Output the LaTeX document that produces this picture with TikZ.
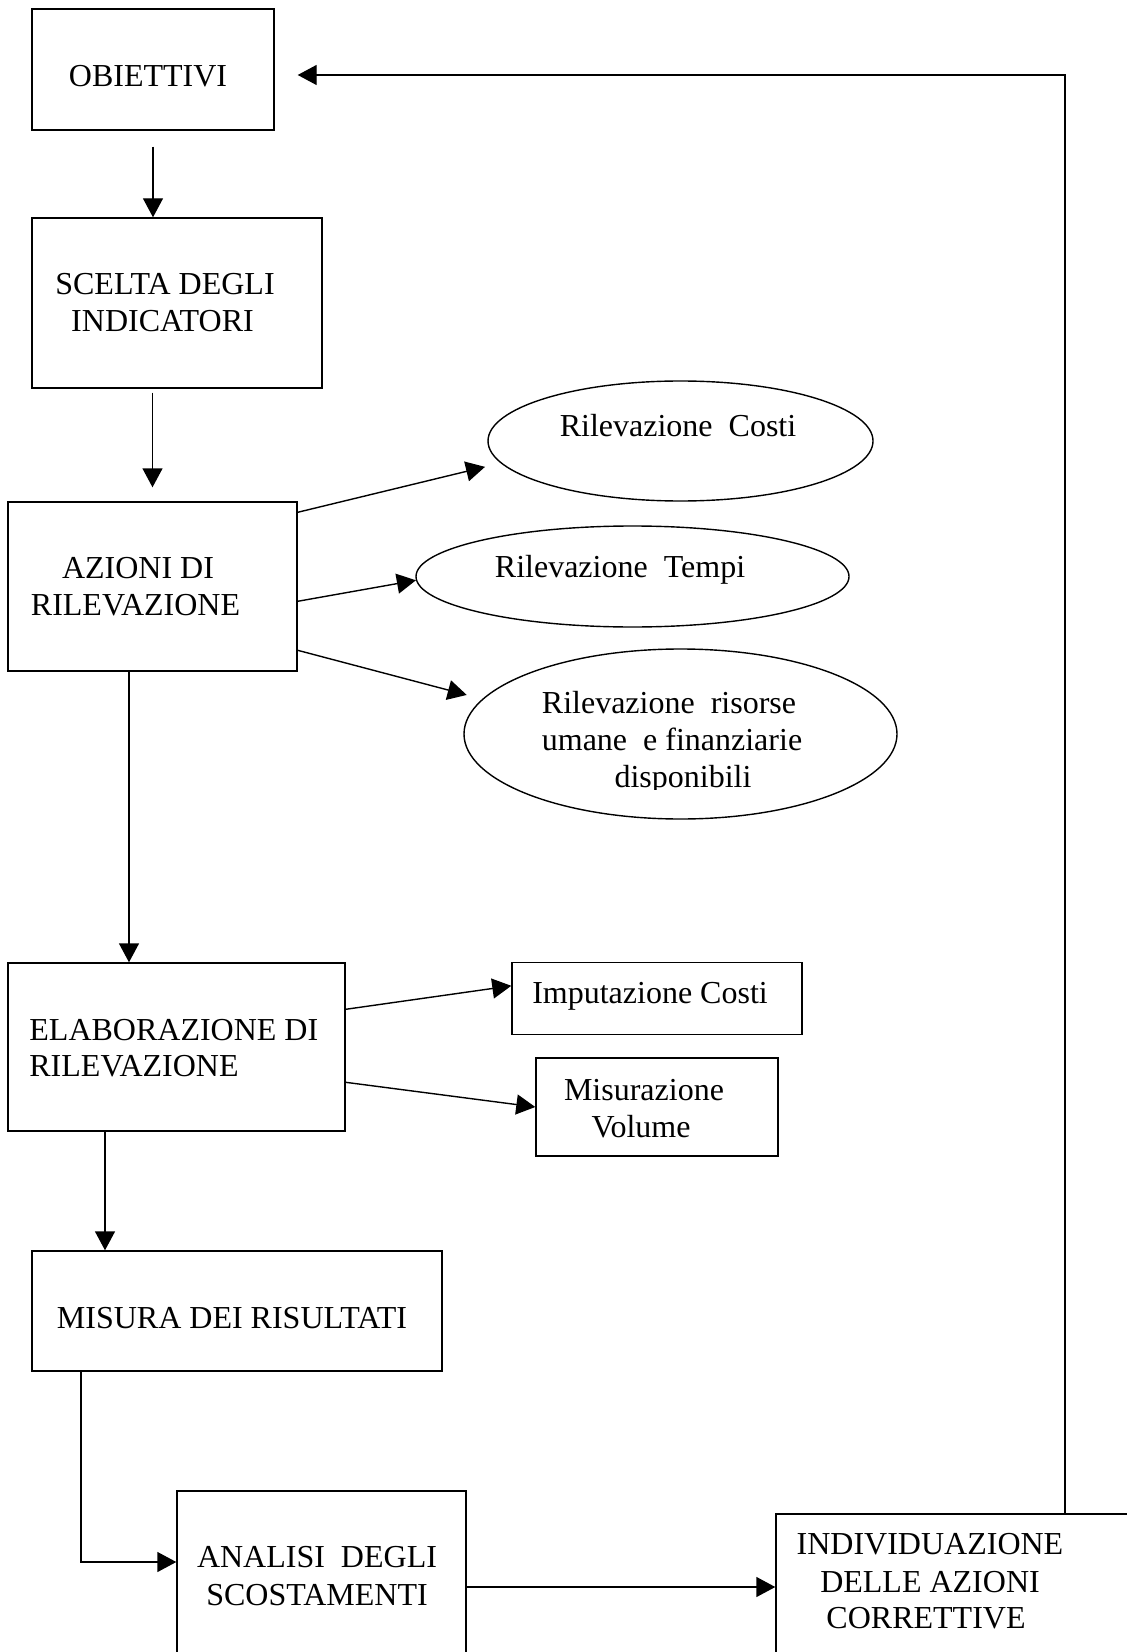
\documentclass[tikz,border=0pt]{standalone}
\usepackage{fontspec}
\setmainfont{Liberation Serif}
\usetikzlibrary{arrows.meta,shapes.geometric}
\tikzset{
  boxnode/.style={draw, line width=0.7pt, rectangle, inner sep=0pt},
  ellnode/.style={draw, line width=0.7pt, ellipse, inner sep=0pt},
  txt/.style={inner sep=0pt, font=\fontsize{16pt}{18pt}\selectfont},
  arr/.style={draw, line width=0.7pt, -{Triangle[length=9.5pt,width=10pt]}},
}
\begin{document}
\begin{tikzpicture}[x=0.5pt, y=-0.5pt]
\path[use as bounding box, clip] (0,0) rectangle (1127,1652);
\fill[white] (0,0) rectangle (1127,1652);

% boxes
\node[boxnode, minimum width=121pt, minimum height=60.5pt] (obi) at (153,69.5) {};
\node[boxnode, minimum width=145pt, minimum height=85pt] (scelta) at (177,303) {};
\node[boxnode, minimum width=144.5pt, minimum height=84.5pt] (azioni) at (152.5,586.5) {};
\node[boxnode, minimum width=168.5pt, minimum height=84pt] (elab) at (176.5,1047) {};
\node[boxnode, minimum width=145pt, minimum height=36pt] (imput) at (657,998.5) {};
\node[boxnode, minimum width=121pt, minimum height=49pt] (misur) at (657,1107) {};
\node[boxnode, minimum width=205pt, minimum height=60pt] (misura) at (237,1311) {};
\node[boxnode, minimum width=144.5pt, minimum height=104.5pt] (analisi) at (321.5,1595.5) {};
\node[boxnode, minimum width=182pt, minimum height=93pt] (indiv) at (958,1607) {};

% ellipses
\node[ellnode, minimum width=192.5pt, minimum height=60pt] (costi) at (680.5,441) {};
\node[ellnode, minimum width=216.5pt, minimum height=50.5pt] (tempi) at (632.5,576.5) {};
\node[ellnode, minimum width=216.5pt, minimum height=85pt] (risorse) at (680.5,734) {};

% texts
\node[txt, anchor=base] (obiT) at (148,87) {OBIETTIVI};
\node[txt, anchor=base] (sceltaT1) at (165,295) {SCELTA DEGLI};
\node[txt, anchor=base] (sceltaT2) at (162.5,332) {INDICATORI};
\node[txt, anchor=base] (azioniT1) at (138,578) {AZIONI DI};
\node[txt, anchor=base] (azioniT2) at (135.5,615) {RILEVAZIONE};
\node[txt, anchor=base] (costiT) at (678,437) {Rilevazione\ \ Costi};
\node[txt, anchor=base] (tempiT) at (620,577) {Rilevazione\ \ Tempi};
\node[txt, anchor=base] (risT1) at (669,713) {Rilevazione\ \ risorse};
\node[txt, anchor=base] (risT2) at (672,750) {umane\ \ e finanziarie};
\begin{scope}
\clip (400,760) rectangle (900,789);
\node[txt, anchor=base] (risT3) at (683,787) {disponibili};
\end{scope}
\node[txt, anchor=base west] (elabT1) at (29,1040) {ELABORAZIONE DI};
\node[txt, anchor=base west] (elabT2) at (29,1076) {RILEVAZIONE};
\node[txt, anchor=base] (imputT) at (650,1003) {Imputazione Costi};
\node[txt, anchor=base] (misurT1) at (644,1100) {Misurazione};
\node[txt, anchor=base] (misurT2) at (641,1137) {Volume};
\node[txt, anchor=base] (misuraT) at (232,1328) {MISURA DEI RISULTATI};
\node[txt, anchor=base] (analisiT1) at (317,1567) {ANALISI\ \ DEGLI};
\node[txt, anchor=base] (analisiT2) at (317,1605) {SCOSTAMENTI};
\node[txt, anchor=base] (indivT1) at (930,1554) {INDIVIDUAZIONE};
\node[txt, anchor=base] (indivT2) at (930,1592) {DELLE AZIONI};
\node[txt, anchor=base] (indivT3) at (926,1628) {CORRETTIVE};

% connectors
\draw[arr] ([yshift=-8pt]obi.south) -- (obi.south |- scelta.north);
\draw[arr] ([yshift=-2pt]azioni.north |- scelta.south) -- ([yshift=7pt]azioni.north);
\draw[arr, shorten >=8pt] ([yshift=-5.5pt]azioni.north east) -- (costi.187);
\draw[arr] ([yshift=-50pt]azioni.north east) -- (tempi.181);
\draw[arr, shorten >=8pt] ([yshift=-74.5pt]azioni.north east) -- (risorse.170);
\draw[arr] ([xshift=-11.75pt]azioni.south) -- ([xshift=-11.75pt]azioni.south |- elab.north);
\draw[arr] ([yshift=-23.5pt]elab.north east) -- ([yshift=-12pt]imput.north west);
\draw[arr] ([yshift=-60pt]elab.north east) -- (misur.west);
\draw[arr] ([xshift=-35.75pt]elab.south) -- ([xshift=-35.75pt]elab.south |- misura.north);
\draw[arr] ([xshift=-78pt]misura.south) |- ([yshift=16.75pt]analisi.west);
\draw[arr] ([yshift=4.25pt]analisi.east) -- ([yshift=4.25pt]analisi.east -| indiv.west);
\draw[arr, shorten >=11.5pt] ([xshift=53.5pt]indiv.north) |- ([yshift=-2.75pt]obi.east);
\end{tikzpicture}
\end{document}
